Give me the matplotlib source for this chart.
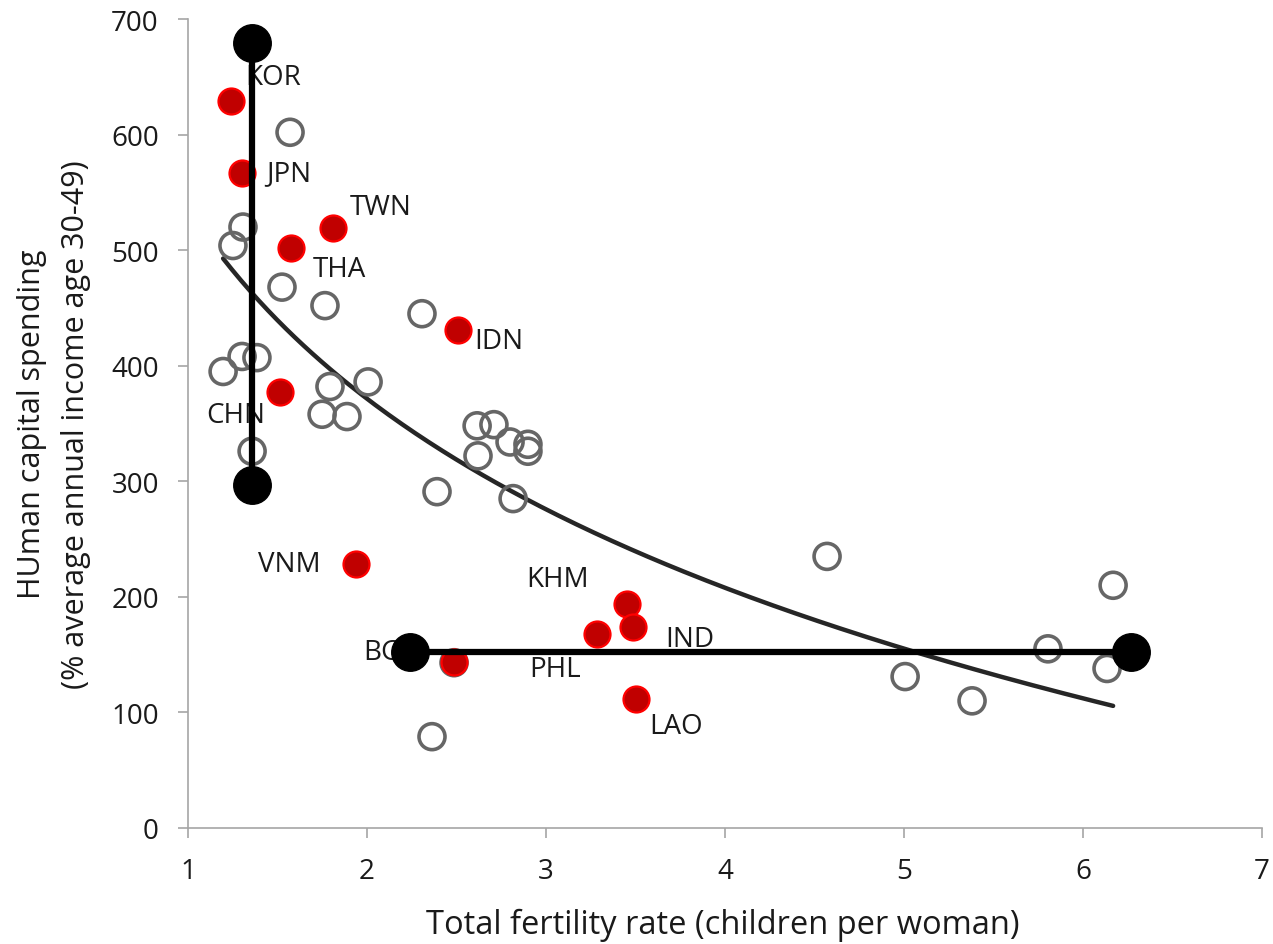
import matplotlib
matplotlib.use('Agg')
import matplotlib.pyplot as plt
import numpy as np

plt.rcParams['font.family'] = ['Open Sans', 'DejaVu Sans']

# 亚洲重点国家（红点）
asia_codes = ["KOR", "JPN", "TWN", "THA", "IDN", "CHN", "VNM", "KHM", "IND", "PHL", "LAO", "BGD"]
asia_tfr = [1.24, 1.30, 1.81, 1.575, 2.51, 1.514, 1.94, 3.453, 3.486, 3.285, 3.503, 2.486]
asia_hc = [629, 567, 519, 502, 431, 377, 228, 194, 174, 168, 112, 144]

# 其它国家（空心灰圈）
other_tfr = [1.57, 1.307, 1.251, 1.525, 1.765, 2.307, 1.302, 1.385, 1.196, 1.793, 2.006,
             1.749, 1.888, 1.358, 2.615, 2.709, 2.62, 2.799, 2.899, 2.899, 2.391, 2.816,
             2.363, 4.57, 6.168, 5.804, 5.006, 5.38, 6.134, 2.486]
other_hc = [602, 520, 504, 468, 452, 445, 408, 407, 395, 382, 386,
            358, 356, 326, 348, 349, 322, 334, 332, 326, 291, 285,
            79, 235, 210, 155, 131, 110, 138, 143]

# 对数趋势线系数 y = a + b*ln(x)
trend_a = 535
trend_b = -236

# 叠加的黑色标注线
vline_x = 1.358
vline_y = [297, 679]
hline_y = 152
hline_x = [2.24, 6.268]

# 标签偏移 (points)
label_offsets = {
    "KOR": (30, 17), "JPN": (34, 0), "TWN": (34, 15), "THA": (35, -15),
    "IDN": (29, -8), "CHN": (-32, -16), "VNM": (-48, 0), "KHM": (-50, 18),
    "IND": (41, -9), "PHL": (-30, -25), "LAO": (29, -20), "BGD": (-44, 7),
}

fig = plt.figure(figsize=(12.73, 9.45), dpi=100)
ax = fig.add_axes([0.1477, 0.1228, 0.8437, 0.856])

all_x = np.array(asia_tfr + other_tfr)
xt = np.linspace(all_x.min(), all_x.max(), 200)
ax.plot(xt, trend_a + trend_b * np.log(xt), color='#262626', linewidth=3.2, zorder=2,
        solid_capstyle='round')

ax.scatter(other_tfr, other_hc, s=350, facecolors='none', edgecolors='#666666',
           linewidths=2.6, zorder=3)
ax.scatter(asia_tfr, asia_hc, s=350, facecolors='#C00000', edgecolors='#FF0000',
           linewidths=1.6, zorder=4)

for code, x, y in zip(asia_codes, asia_tfr, asia_hc):
    dx, dy = label_offsets[code]
    ax.annotate(code, xy=(x, y), xytext=(dx, dy), textcoords='offset points',
                ha='center', va='center', fontsize=20, color='#1a1a1a', zorder=5)

ax.plot([vline_x, vline_x], vline_y, color='black', linewidth=4.5, zorder=6,
        marker='o', markersize=27)
ax.plot(hline_x, [hline_y, hline_y], color='black', linewidth=4.5, zorder=6,
        marker='o', markersize=27)

ax.set_xlim(1, 7)
ax.set_ylim(0, 700)
ax.set_xticks(range(1, 8))
ax.set_yticks(range(0, 701, 100))
for s in ['top', 'right']:
    ax.spines[s].set_visible(False)
for s in ['left', 'bottom']:
    ax.spines[s].set_color('#A6A6A6')
    ax.spines[s].set_linewidth(1.2)
ax.tick_params(axis='both', direction='out', length=7, width=1.2, color='#A6A6A6',
               labelsize=20, labelcolor='#1a1a1a')
ax.tick_params(axis='y', pad=14)
ax.tick_params(axis='x', pad=14)

fig.text(0.568, 0.021, 'Total fertility rate (children per woman)', fontsize=23.5,
         color='#1a1a1a', ha='center', va='center')
fig.text(0.025, 0.551, 'HUman capital spending', fontsize=22, color='#1a1a1a',
         ha='center', va='center', rotation=90)
fig.text(0.060, 0.551, '(% average annual income age 30-49)', fontsize=22,
         color='#1a1a1a', ha='center', va='center', rotation=90)

fig.savefig('out.png', dpi=100)
